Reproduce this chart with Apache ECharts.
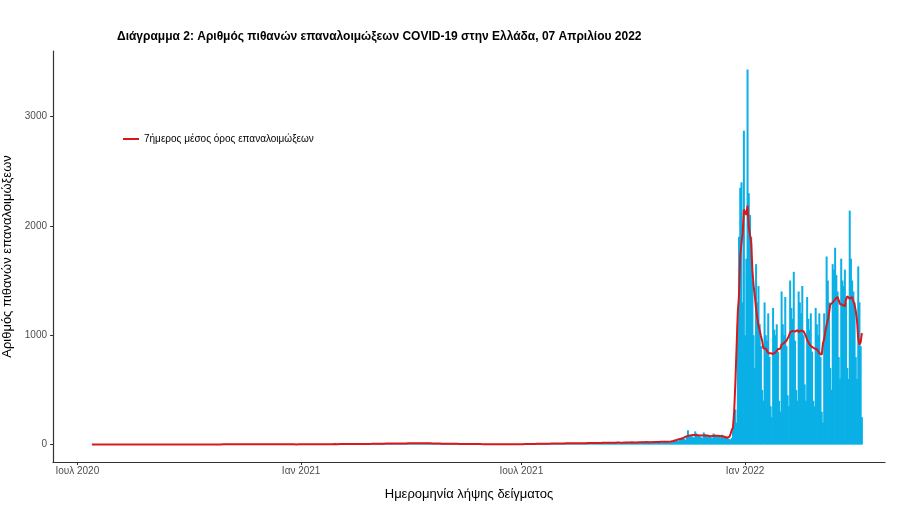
<!DOCTYPE html>
<html>
<head>
<meta charset="utf-8">
<script src="https://cdn.jsdelivr.net/npm/echarts@6/dist/echarts.min.js"></script>
<style>html,body{margin:0;padding:0;background:#fff}#chart{width:922px;height:506px}</style>
</head>
<body>
<div id="chart"></div>
<script>
// daily counts per month, starting 2020-07-13
var startDate = "2020-07-13";
var jul20 = [0,0,1,0,0,0,1,0,0,0,0,1,0,0,0,1,0,0,0];
var aug20 = [0,1,0,0,1,0,0,0,1,0,0,1,0,0,0,1,0,0,1,0,1,0,0,1,0,0,0,1,0,1,0];
var sep20 = [1,0,1,0,0,1,1,0,0,1,0,1,0,0,1,0,1,0,0,1,1,0,1,0,0,1,0,1,0,1];
var oct20 = [1,1,0,1,2,1,0,1,1,0,2,1,1,0,1,2,1,0,1,1,2,1,0,1,1,2,1,1,0,2,1];
var nov20 = [2,1,2,3,2,1,1,2,3,2,2,1,1,2,3,2,1,2,2,1,1,2,3,2,1,2,2,1,1,2];
var dec20 = [2,1,2,2,1,1,2,3,2,1,2,2,1,1,2,2,1,2,1,1,2,2,1,2,1,0,1,2,2,1,1];
var jan21 = [2,3,3,2,4,3,2,3,4,3,2,4,3,3,2,4,3,3,4,2,3,4,3,3,2,4,5,3,4,3,2];
var feb21 = [4,5,3,4,5,4,3,5,6,4,5,4,3,5,6,5,4,6,5,4,3,6,7,5,6,5,4,6];
var mar21 = [7,8,6,9,8,6,5,9,10,8,9,8,6,7,10,11,9,10,8,7,6,11,12,10,11,9,7,8,12,13,11];
var apr21 = [12,10,8,9,14,15,13,12,11,9,10,13,14,12,11,10,8,9,11,12,10,9,8,7,6,9,10,8,7,6];
var may21 = [6,5,5,7,8,7,6,5,4,6,7,6,5,5,4,3,5,6,5,4,4,3,3,5,5,4,4,3,3,4,4];
var jun21 = [3,3,4,3,2,2,3,4,3,3,2,2,2,3,3,3,2,2,2,3,3,2,2,2,3,4,3,3,2,3];
var jul21 = [4,4,3,3,5,6,5,5,4,4,6,7,7,6,5,5,8,9,8,7,6,6,9,10,9,8,7,7,10,11,10];
var aug21 = [9,8,11,12,11,10,9,8,12,13,12,11,10,9,13,14,12,11,10,9,14,15,13,12,11,10,15,16,14,13,12];
var sep21 = [12,17,18,16,15,13,12,18,20,17,16,14,12,19,21,18,16,14,13,20,22,19,17,15,13,21,23,20,18,16];
var oct21 = [14,22,24,21,19,16,15,24,26,22,20,17,16,25,27,23,21,18,17,27,30,26,23,20,18,30,33,29,26,22,20];
var nov21 = [20,25,35,40,45,38,30,55,60,65,58,50,42,70,130,90,85,80,70,60,120,100,90,85,75,65,60,110,95,85];
var dec21 = [80,75,70,65,60,100,90,85,80,75,70,65,90,80,75,70,60,55,50,45,60,150,250,320,200,1100,1900,2350,2400,1300,2870];
var jan22 = [1000,1700,3430,2300,2100,1900,1500,1000,700,1650,1300,1450,1100,900,500,400,1300,1000,950,1200,800,350,250,1250,1050,1000,1100,850,400,300,1400];
var feb22 = [1100,1000,1350,900,450,350,1500,1250,1150,1580,950,500,400,1400,1300,1200,1450,1000,550,400,1350,1150,1050,1200,850,400,350,1250];
var mar22 = [1100,1000,1200,800,300,200,1200,1050,1720,1500,1300,700,500,1650,1600,1800,1550,1400,800,600,1700,1500,1450,1600,1300,700,600,2140,1700,1500,1400];
var apr22 = [1300,800,600,1630,1300,900,250];

var yTicks = [0, 1000, 2000, 3000];
var xTicks = ["2020-07-01", "2021-01-01", "2021-07-01", "2022-01-01"];
var xTickLabels = ["Ιουλ 2020", "Ιαν 2021", "Ιουλ 2021", "Ιαν 2022"];

var counts = [].concat(jul20, aug20, sep20, oct20, nov20, dec20, jan21, feb21, mar21, apr21,
  may21, jun21, jul21, aug21, sep21, oct21, nov21, dec21, jan22, feb22, mar22, apr22);
var day = 86400000, t0 = Date.parse(startDate + "T00:00:00Z");
var bars = [], avg = [];
counts.forEach(function(v, i) {
  bars.push([t0 + i * day, v]);
  var s = 0, n = 0;
  for (var k = i - 3; k <= i + 3; k++) if (k >= 0 && k < counts.length) { s += counts[k]; n++; }
  avg.push([t0 + i * day, s / n]);
});
var tickTimes = xTicks.map(function(d) { return Date.parse(d + "T00:00:00Z"); });
var labelMap = {};
tickTimes.forEach(function(t, i) { labelMap[t] = xTickLabels[i]; });

var chart = echarts.init(document.getElementById("chart"));
chart.setOption({
  animation: false,
  textStyle: { fontFamily: "Liberation Sans, Arial, sans-serif" },
  title: {
    text: "Διάγραμμα 2: Αριθμός πιθανών επαναλοιμώξεων COVID-19 στην Ελλάδα, 07 Απριλίου 2022",
    left: 112, top: 26,
    textStyle: { fontSize: 12, fontWeight: "bold", color: "#000" }
  },
  legend: {
    left: 118, top: 129, itemWidth: 16, itemHeight: 2, itemGap: 6,
    data: [{ name: "7ήμερος μέσος όρος επαναλοιμώξεων", icon: "rect" }],
    textStyle: { fontSize: 10, color: "#000" }
  },
  grid: { left: 53, right: 37, top: 51, bottom: 44, containLabel: false, outerBoundsMode: "none" },
  xAxis: {
    type: "value",
    min: Date.parse("2020-06-11T00:00:00Z"), max: Date.parse("2022-04-26T00:00:00Z"),
    name: "Ημερομηνία λήψης δείγματος", nameLocation: "middle", nameGap: 26,
    nameTextStyle: { fontSize: 13, color: "#000" },
    axisLine: { onZero: false, lineStyle: { color: "#333", width: 1.2 } },
    axisTick: { length: 3, lineStyle: { color: "#333" }, customValues: tickTimes },
    axisLabel: { customValues: tickTimes, fontSize: 10, color: "#4d4d4d", margin: 4,
      formatter: function(v) { return labelMap[v] || ""; } },
    splitLine: { show: false }
  },
  yAxis: {
    type: "value", min: -160, max: 3600,
    name: "Αριθμός πιθανών επαναλοιμώξεων", nameLocation: "middle", nameGap: 36,
    nameTextStyle: { fontSize: 13, color: "#000" },
    axisLine: { show: true, onZero: false, lineStyle: { color: "#333", width: 1.2 } },
    axisTick: { length: 3, lineStyle: { color: "#333" }, customValues: yTicks },
    axisLabel: { customValues: yTicks, fontSize: 10, color: "#4d4d4d", margin: 6,
      formatter: function(v) { return String(v); } },
    splitLine: { show: false }
  },
  series: [
    { name: "bars", type: "bar", data: bars, barWidth: 2, itemStyle: { color: "#0ab0e6" } },
    { name: "7ήμερος μέσος όρος επαναλοιμώξεων", type: "line", data: avg, showSymbol: false,
      lineStyle: { color: "#d7191c", width: 2 }, itemStyle: { color: "#d7191c" } }
  ]
});
</script>
</body>
</html>
